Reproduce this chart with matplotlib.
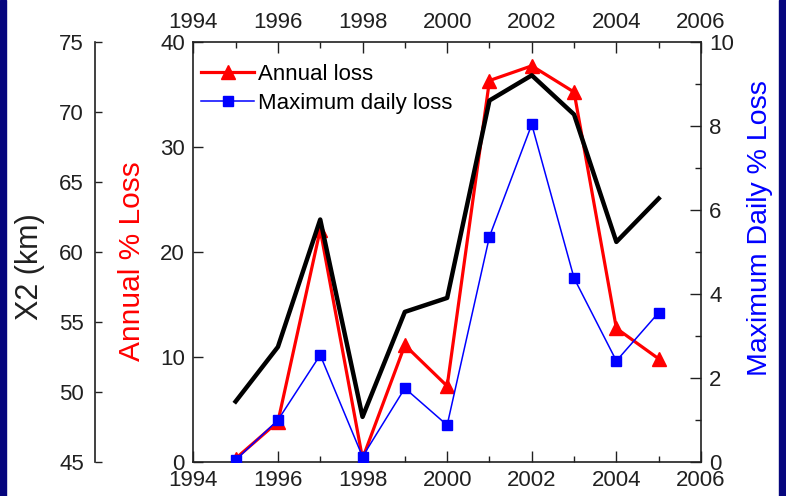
import matplotlib
matplotlib.use("Agg")
import matplotlib.pyplot as plt
from matplotlib.patches import Rectangle
from matplotlib.ticker import MultipleLocator

plt.rcParams['font.family'] = ['Liberation Sans', 'DejaVu Sans']

years = [1995, 1996, 1997, 1998, 1999, 2000, 2001, 2002, 2003, 2004, 2005]
annual_loss = [0.3, 3.8, 22.1, 0.3, 11.1, 7.2, 36.3, 37.7, 35.2, 12.7, 9.8]
max_daily_loss = [0.04, 0.99, 2.54, 0.12, 1.75, 0.87, 5.36, 8.03, 4.37, 2.40, 3.55]
x2_km = [49.3, 53.2, 62.3, 48.2, 55.7, 56.7, 70.8, 72.6, 69.8, 60.7, 63.8]

W, H = 786, 496
fig = plt.figure(figsize=(W / 100, H / 100), dpi=100)
fig.patch.set_facecolor('white')

# dark slide border on both sides
fig.patches.append(Rectangle((0, 0), 6 / W, 1, transform=fig.transFigure,
                             color='#06067e', zorder=0))
fig.patches.append(Rectangle((779 / W, 0), 7 / W, 1, transform=fig.transFigure,
                             color='#06067e', zorder=0))

left, right, top, bottom = 193.3, 701.0, 41.7, 461.7
ax = fig.add_axes([left / W, (H - bottom) / H, (right - left) / W, (bottom - top) / H])

fs = 16
tick_kw = dict(direction='in', labelsize=fs, width=1, color='#202020', labelcolor='#202020')

# red: annual loss
ax.plot(years, annual_loss, '-^', color='#ff0000', lw=2.3, ms=10, label='Annual loss', zorder=2)
ax.set_xlim(1994, 2006)
ax.set_ylim(0, 40)
ax.xaxis.set_major_locator(MultipleLocator(2))
ax.xaxis.set_minor_locator(MultipleLocator(1))
ax.yaxis.set_major_locator(MultipleLocator(10))
ax.tick_params(axis='x', which='both', top=True, labeltop=True, **tick_kw)
ax.tick_params(axis='x', which='major', length=8, pad=6)
ax.tick_params(axis='x', which='minor', length=4.5)
ax.tick_params(axis='y', which='major', length=7, pad=6, **tick_kw)
for s in ax.spines.values():
    s.set_linewidth(1.2)
    s.set_color('#202020')

# black: X2 on an outer left axis
ax_x2 = ax.twinx()
ax_x2.plot(years, x2_km, '-', color='black', lw=3.2, zorder=3)
ax_x2.set_ylim(45, 75)
ax_x2.yaxis.set_major_locator(MultipleLocator(5))
ax_x2.yaxis.set_ticks_position('left')
ax_x2.yaxis.set_label_position('left')
ax_x2.spines['left'].set_position(('axes', (95 - left) / (right - left)))
for name in ['right', 'top', 'bottom']:
    ax_x2.spines[name].set_visible(False)
ax_x2.spines['left'].set_linewidth(1.2)
ax_x2.spines['left'].set_color('#202020')
ax_x2.tick_params(axis='y', which='major', length=5, pad=8, **tick_kw)

# blue: maximum daily loss on right axis
ax_r = ax.twinx()
ax_r.plot(years, max_daily_loss, '-s', color='#0000ff', lw=1.1, ms=7,
          label='Maximum daily loss', zorder=4)
ax_r.set_ylim(0, 10)
ax_r.yaxis.set_major_locator(MultipleLocator(2))
ax_r.yaxis.set_minor_locator(MultipleLocator(1))
ax_r.tick_params(axis='y', which='both', **tick_kw)
ax_r.tick_params(axis='y', which='major', length=8, pad=6)
ax_r.tick_params(axis='y', which='minor', length=4.5)
for s in ax_r.spines.values():
    s.set_visible(False)

# axis titles
fig.text(30 / W, 1 - 267 / H, 'X2 (km)', rotation=90, fontsize=22,
         color='#202020', ha='center', va='center')
fig.text(132 / W, 1 - 261 / H, 'Annual % Loss', rotation=90, fontsize=21.5,
         color='#ff0000', ha='center', va='center')
fig.text(760 / W, 1 - 228 / H, 'Maximum Daily % Loss', rotation=90, fontsize=20.5,
         color='#0000ff', ha='center', va='center')

h1, l1 = ax.get_legend_handles_labels()
h2, l2 = ax_r.get_legend_handles_labels()
ax_r.legend(h1 + h2, l1 + l2, loc='upper left', bbox_to_anchor=(0.016, 0.948),
            frameon=False, fontsize=fs, handlelength=2.35, handletextpad=0.2,
            labelspacing=0.38, borderpad=0, borderaxespad=0, numpoints=1)

fig.savefig('out.png', dpi=100, facecolor='white')
